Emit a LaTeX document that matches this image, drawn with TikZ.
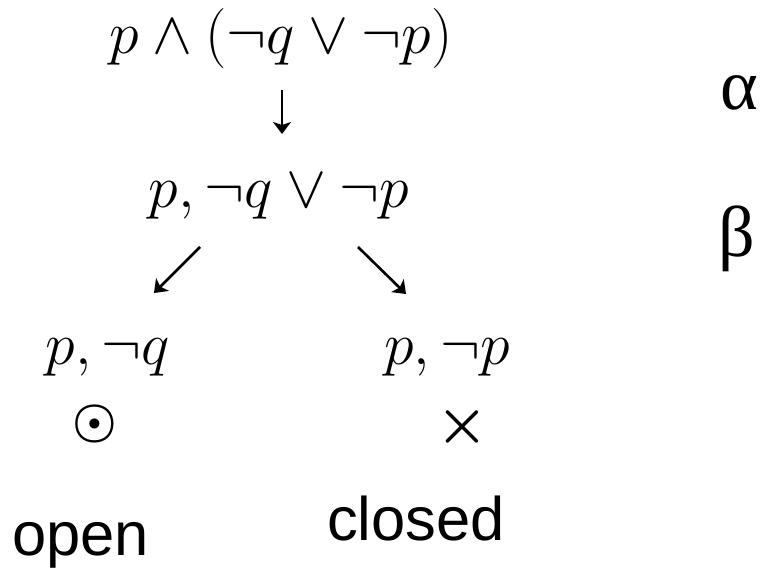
\RequirePackage{fix-cm}
\documentclass[tikz,border=0pt]{standalone}
\usepackage{fontspec}
\newfontfamily\greekserif{Liberation Serif}
\newfontfamily\labelsans{Liberation Sans}
\usetikzlibrary{arrows.meta}

\tikzset{
  formula/.style={anchor=base, inner sep=0pt, font=\fontsize{60}{72}\selectfont},
  symglyph/.style={anchor=center, inner sep=0pt, font=\fontsize{58}{68}\selectfont\boldmath},
  greek/.style={anchor=base, inner sep=0pt, font=\greekserif\fontsize{72}{84}\selectfont},
  caption/.style={anchor=base west, inner sep=0pt, font=\labelsans\fontsize{61.5}{74}\selectfont},
  arr/.style={line width=2.6pt, -{Stealth[length=12pt,width=18pt,inset=3pt]}},
}

\begin{document}
\begin{tikzpicture}[x=1pt,y=-1pt]
  \useasboundingbox (0,0) rectangle (764,569);

  % tableau rows
  \node[formula] (top) at (281,54) {$p\wedge(\neg q\vee\neg p)$};
  \node[formula] (mid) at (279,208) {$p,\neg q\vee\neg p$};
  \node[formula] (left) at (108,365) {$p,\neg q$};
  \node[formula] (right) at (447,365) {$p,\neg p$};

  % branch markers: open branch and closed branch
  \node[symglyph, font=\fontsize{50}{60}\selectfont\boldmath] (openmark) at (95,424) {$\odot$};
  \node[symglyph] (closedmark) at (462,427) {$\times$};

  % rule labels
  \node[greek] (alpha) at (739,110) {α};
  \node[greek] (beta) at (737,257) {β};

  % branch captions
  \node[caption] (open) at (12,555) {open};
  \node[caption] (closed) at (327,540) {closed};

  % arrows between rows
  \coordinate (a1) at (282,90);
  \coordinate (a2) at (282,134);
  \coordinate (b1) at (200,247);
  \coordinate (b2) at (154,293);
  \coordinate (c1) at (358,247);
  \coordinate (c2) at (406,294);
  \draw[arr] (a1) -- (a2);
  \draw[arr] (b1) -- (b2);
  \draw[arr] (c1) -- (c2);
\end{tikzpicture}
\end{document}
